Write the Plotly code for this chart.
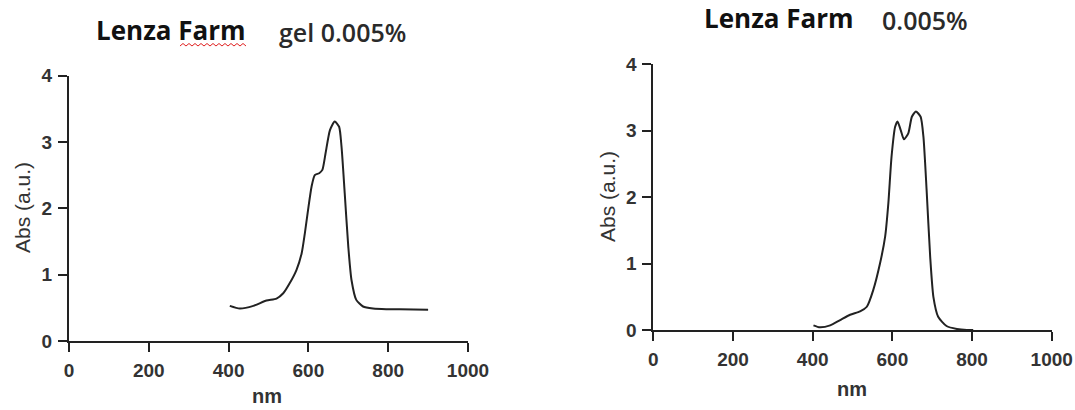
import plotly.graph_objects as go

W, H = 1075, 410

# ---- data ----
left_nm = [403, 428, 462, 495, 520, 537, 553, 570, 583, 591, 599, 608, 616, 627, 635,
           643, 654, 666, 677, 683, 691, 700, 708, 720, 737, 762, 795, 829, 900]
left_abs = [0.53, 0.49, 0.53, 0.61, 0.64, 0.72, 0.87, 1.07, 1.32, 1.62, 1.97, 2.33, 2.50, 2.53, 2.58,
            2.83, 3.18, 3.31, 3.23, 2.93, 2.23, 1.42, 0.92, 0.62, 0.52, 0.49, 0.48, 0.48, 0.47]

right_nm = [402, 418, 444, 469, 494, 519, 536, 552, 569, 582, 590, 598, 607, 613, 621,
            629, 640, 649, 659, 671, 678, 686, 695, 703, 715, 736, 762, 787, 803]
right_abs = [0.07, 0.04, 0.07, 0.15, 0.23, 0.28, 0.35, 0.60, 1.00, 1.41, 1.91, 2.61, 3.06, 3.14, 3.01,
             2.87, 2.96, 3.21, 3.29, 3.21, 2.91, 2.11, 1.10, 0.50, 0.20, 0.06, 0.015, 0.0, 0.0]

x_ticks = [0, 200, 400, 600, 800, 1000]
y_ticks = [0, 1, 2, 3, 4]
x_title = "nm"
y_title = "Abs (a.u.)"

AX = "#222222"
TXT = "#333333"
tickfont = dict(family="Liberation Sans", size=19, color=TXT, weight="bold")

fig = go.Figure()
fig.add_trace(go.Scatter(x=left_nm, y=left_abs, mode="lines",
                         line=dict(color="#222222", width=2, shape="spline", smoothing=0.6),
                         xaxis="x", yaxis="y", showlegend=False, hoverinfo="skip"))
fig.add_trace(go.Scatter(x=right_nm, y=right_abs, mode="lines",
                         line=dict(color="#222222", width=2, shape="spline", smoothing=0.6),
                         xaxis="x2", yaxis="y2", showlegend=False, hoverinfo="skip"))

def xa(domain, anchor):
    return dict(domain=domain, anchor=anchor, range=[0, 1000], tickvals=x_ticks, showline=True, linecolor=AX,
                linewidth=2, ticks="outside", ticklen=9, tickwidth=2, tickcolor=AX, showgrid=False, zeroline=False,
                tickfont=tickfont, fixedrange=True, automargin=False, ticklabelstandoff=2)

def ya(domain, anchor):
    return dict(domain=domain, anchor=anchor, range=[0, 4], tickvals=y_ticks, showline=True, linecolor=AX,
                linewidth=2, ticks="outside", ticklen=9, tickwidth=2, tickcolor=AX, showgrid=False, zeroline=False,
                tickfont=tickfont, fixedrange=True, automargin=False, ticklabelstandoff=2)

fig.update_layout(
    width=W, height=H, margin=dict(l=0, r=0, t=0, b=0, autoexpand=False),
    paper_bgcolor="white", plot_bgcolor="white",
    xaxis=xa([69 / W, 468 / W], "y"),
    yaxis=ya([1 - 341 / H, 1 - 75.7 / H], "x"),
    xaxis2=xa([653.3 / W, 1051.7 / W], "y2"),
    yaxis2=ya([1 - 330 / H, 1 - 64.3 / H], "x2"),
)

ann = []
def text(x, y, s, size, weight="normal", color=TXT, family="Liberation Sans", angle=0):
    ann.append(dict(x=x / W, y=1 - y / H, xref="paper", yref="paper", text=s, showarrow=False,
                    xanchor="center", yanchor="middle", textangle=angle,
                    font=dict(family=family, size=size, color=color, weight=weight)))

# axis titles
text(267, 396, x_title, 20, "bold")
text(852, 389, x_title, 20, "bold")
text(22, 207, y_title, 21, "normal", angle=-90)
text(607, 197, y_title, 21, "normal", angle=-90)

# titles
text(171, 30, "Lenza Farm", 26, "bold", "#111111", "Open Sans")
text(342, 32, "gel 0.005%", 25, 600, "#2a2a2a", "Open Sans")
text(779, 18, "Lenza Farm", 26, "bold", "#111111", "Open Sans")
text(925, 20, "0.005%", 25, 600, "#2a2a2a", "Open Sans")
fig.update_layout(annotations=ann)

# red wavy spell-check underline beneath "Farm"
x0, x1, yb = 180, 248, 46
pts = []
i = 0
x = x0
while x <= x1:
    pts.append((x / W, 1 - (yb + (0 if i % 2 == 0 else -2.5)) / H))
    x += 3
    i += 1
path = "M " + " L ".join(f"{px:.5f},{py:.5f}" for px, py in pts)
fig.add_shape(type="path", path=path, xref="paper", yref="paper", line=dict(color="#e02020", width=1))

fig.write_html("out.html")
